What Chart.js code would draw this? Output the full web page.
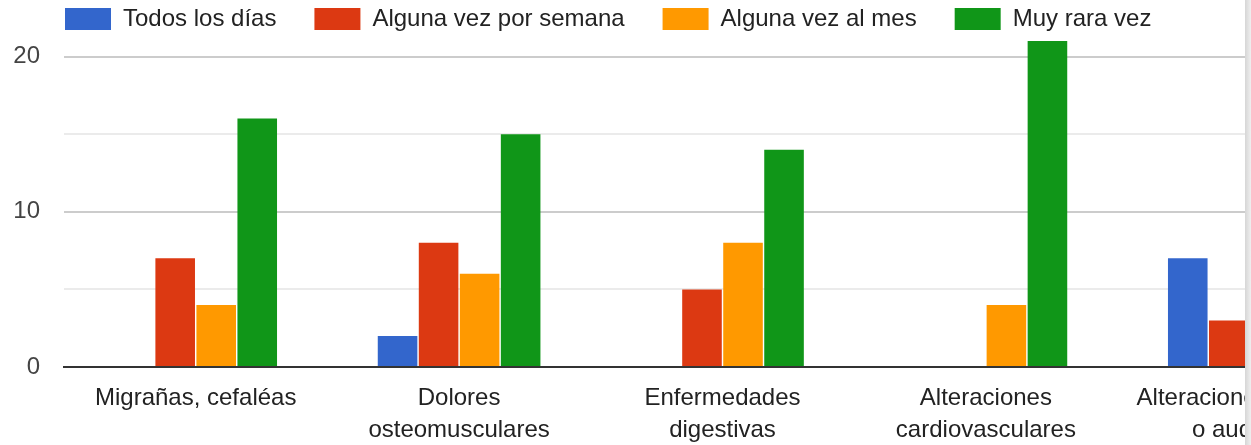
<!DOCTYPE html>
<html>
<head>
<meta charset="utf-8">
<script src="https://cdn.jsdelivr.net/npm/chart.js@4"></script>
<style>
  body { margin: 0; background: #fff; }
  #wrap { position: relative; width: 1251px; height: 445px; overflow: hidden; }
  #clip { position: absolute; left: 0; top: 0; width: 1245px; height: 445px; overflow: hidden; }
  #box  { position: relative; width: 1400px; height: 445px; }
  #edge { position: absolute; left: 1245px; top: 0; width: 6px; height: 445px;
          background: linear-gradient(to right, #d6d6d6, #efefef); }
</style>
</head>
<body>
<div id="wrap">
  <div id="clip"><div id="box"><canvas id="chart"></canvas></div></div>
  <div id="edge"></div>
</div>
<script>
// ── datos ─────────────────────────────────────────────
const CATEGORIAS = [
  ['Migrañas, cefaléas'],
  ['Dolores', 'osteomusculares'],
  ['Enfermedades', 'digestivas'],
  ['Alteraciones', 'cardiovasculares'],
  ['Alteraciones visuales', 'o auditivas'],
];
const SERIES = ['Todos los días', 'Alguna vez por semana', 'Alguna vez al mes', 'Muy rara vez'];
const TODOS_LOS_DIAS = [0, 2, 0, 0, 7];
const POR_SEMANA     = [7, 8, 5, 0, 3];
const AL_MES         = [4, 6, 8, 4, null];
const RARA_VEZ       = [16, 15, 14, 21, null];
const Y_TICKS = [0, 5, 10, 15, 20];
const Y_LABELS = [0, 10, 20];

const COLORS = ['#3366CC', '#DC3912', '#FF9900', '#109618'];
const FONT = 'Arial, "Liberation Sans", sans-serif';

Chart.defaults.font.family = FONT;
Chart.defaults.color = '#222';

const valores = [TODOS_LOS_DIAS, POR_SEMANA, AL_MES, RARA_VEZ];

// la leyenda empieza alineada con el área del gráfico, no con el borde del lienzo
const legendShift = {
  id: 'legendShift',
  afterLayout(chart) {
    if (chart.legend) chart.legend.left = 27;
  },
};

new Chart(document.getElementById('chart'), {
  type: 'bar',
  plugins: [legendShift],
  data: {
    labels: CATEGORIAS,
    datasets: SERIES.map((s, i) => ({
      label: s,
      data: valores[i],
      backgroundColor: COLORS[i],
      borderWidth: 0,
      barPercentage: 0.965,
      categoryPercentage: 0.623,
    })),
  },
  options: {
    responsive: true,
    maintainAspectRatio: false,
    animation: false,
    layout: { padding: { top: -31, left: 0, right: 19, bottom: 0 } },
    plugins: {
      tooltip: { enabled: false },
      legend: {
        position: 'top',
        align: 'start',
        labels: {
          boxWidth: 46, boxHeight: 22, padding: 38,
          color: '#222',
          font: { size: 24, family: FONT },
        },
      },
    },
    scales: {
      x: {
        grid: { display: false, drawTicks: false },
        border: { display: true, color: '#333', width: 2 },
        ticks: { padding: 15, autoSkip: false, maxRotation: 0,
                 font: { size: 24, lineHeight: 1.33 }, color: '#222' },
        afterFit: s => { s.height = 78; },
      },
      y: {
        min: 0, max: 21,
        border: { display: false },
        grid: {
          drawTicks: false,
          lineWidth: 2,
          color: c => (c.tick.value % 10 === 0 ? '#cccccc' : '#ebebeb'),
        },
        afterBuildTicks: s => { s.ticks = Y_TICKS.map(v => ({ value: v })); },
        ticks: {
          padding: 24,
          color: '#444',
          font: { size: 24 },
          callback: v => (Y_LABELS.includes(v) ? String(v) : ''),
        },
        afterFit: s => { s.width = 64; },
      },
    },
  },
});
</script>
</body>
</html>
